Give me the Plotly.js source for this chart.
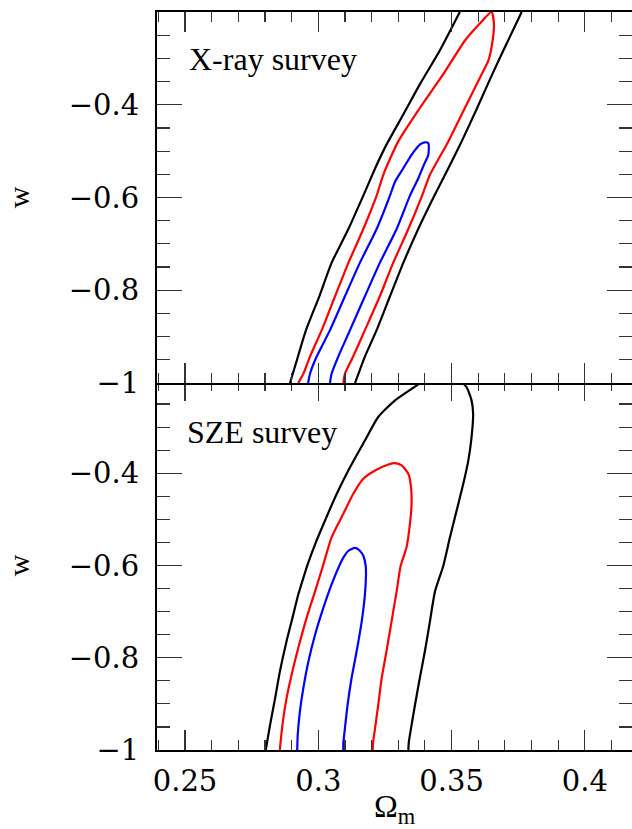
<!DOCTYPE html>
<html>
<head>
<meta charset="utf-8">
<script src="https://cdn.plot.ly/plotly-3.0.1.min.js"></script>
<style>html,body{margin:0;padding:0;background:#fff;}#chart{width:632px;height:829px;}</style>
</head>
<body>
<div id="chart"></div>
<script>
// ---- Data (Omega_m, w) ----
// X-ray survey contours
const xray68_om = [0.2962, 0.2969, 0.2994, 0.3044, 0.3100, 0.3156, 0.3219, 0.3269, 0.3288, 0.3319, 0.3350, 0.3381, 0.3400, 0.3413, 0.3413, 0.3396, 0.3375, 0.3344, 0.3294, 0.3231, 0.3175, 0.3119, 0.3075, 0.3050, 0.3044];
const xray68_w  = [-1, -0.980, -0.943, -0.886, -0.813, -0.741, -0.668, -0.596, -0.566, -0.537, -0.508, -0.486, -0.481, -0.483, -0.508, -0.530, -0.559, -0.596, -0.668, -0.741, -0.813, -0.886, -0.943, -0.980, -1];

const xray95_om = [0.2925, 0.2944, 0.2969, 0.3013, 0.3063, 0.3113, 0.3169, 0.3219, 0.3244, 0.3300, 0.3381, 0.3469, 0.3550, 0.3606, 0.3650, 0.3659, 0.3654, 0.3638, 0.3613, 0.3550, 0.3488, 0.3419, 0.3388, 0.3338, 0.3281, 0.3231, 0.3175, 0.3131, 0.3100, 0.3094];
const xray95_w  = [-1, -0.980, -0.943, -0.886, -0.813, -0.741, -0.668, -0.596, -0.551, -0.479, -0.407, -0.334, -0.262, -0.225, -0.200, -0.225, -0.262, -0.305, -0.334, -0.407, -0.479, -0.551, -0.598, -0.668, -0.741, -0.813, -0.886, -0.943, -0.980, -1];

const xray99_om = [0.2894, 0.2916, 0.2954, 0.3004, 0.3050, 0.3113, 0.3169, 0.3219, 0.3256, 0.3319, 0.3381, 0.3456, 0.3531, null, 0.3763, 0.3706, 0.3653, 0.3596, 0.3538, 0.3488, 0.3434, 0.3375, 0.3319, 0.3269, 0.3219, 0.3175, 0.3138];
const xray99_w  = [-1, -0.958, -0.886, -0.813, -0.741, -0.668, -0.596, -0.530, -0.486, -0.421, -0.356, -0.283, -0.2, null, -0.2, -0.269, -0.334, -0.407, -0.479, -0.537, -0.598, -0.668, -0.741, -0.813, -0.886, -0.943, -1];

// SZE survey contours
const sze68_om = [0.2921, 0.2923, 0.2931, 0.2944, 0.2963, 0.2988, 0.3019, 0.3050, 0.3081, 0.3094, 0.3113, 0.3138, 0.3156, 0.3169, 0.3178, 0.3179, 0.3175, 0.3163, 0.3144, 0.3125, 0.3110, 0.3100, 0.3094, 0.3094];
const sze68_w  = [-1, -0.967, -0.917, -0.866, -0.808, -0.750, -0.692, -0.641, -0.598, -0.583, -0.568, -0.562, -0.568, -0.579, -0.601, -0.620, -0.663, -0.721, -0.786, -0.844, -0.902, -0.953, -0.986, -1];

const sze95_om = [0.2856, 0.2860, 0.2869, 0.2881, 0.2900, 0.2925, 0.2956, 0.2988, 0.3019, 0.3050, 0.3094, 0.3131, 0.3169, 0.3213, 0.3263, 0.3288, 0.3313, 0.3338, 0.3348, 0.3350, 0.3344, 0.3331, 0.3309, 0.3294, 0.3275, 0.3256, 0.3238, 0.3225, 0.3213, 0.3206, 0.3204];
const sze95_w  = [-1, -0.975, -0.931, -0.888, -0.837, -0.779, -0.714, -0.656, -0.598, -0.539, -0.488, -0.445, -0.412, -0.394, -0.381, -0.378, -0.383, -0.401, -0.430, -0.467, -0.510, -0.561, -0.601, -0.656, -0.721, -0.786, -0.844, -0.902, -0.953, -0.982, -1];

const sze99_om = [0.2803, 0.2819, 0.2838, 0.2856, 0.2881, 0.2900, 0.2925, 0.2944, 0.2960, 0.2988, 0.3025, 0.3069, 0.3119, 0.3175, 0.3225, 0.3288, 0.3350, 0.3394, null, 0.3531, 0.3556, 0.3575, 0.3581, 0.3575, 0.3563, 0.3544, 0.3519, 0.3494, 0.3469, 0.3438, 0.3419, 0.3400, 0.3381, 0.3363, 0.3350, 0.3340, 0.3338];
const sze99_w  = [-1, -0.946, -0.888, -0.830, -0.764, -0.721, -0.663, -0.627, -0.598, -0.554, -0.503, -0.445, -0.387, -0.329, -0.278, -0.242, -0.217, -0.2, null, -0.2, -0.213, -0.242, -0.271, -0.322, -0.372, -0.423, -0.481, -0.539, -0.601, -0.656, -0.721, -0.786, -0.844, -0.902, -0.946, -0.982, -1];

// Tick labels and panel labels
const xTickVals = [0.25, 0.3, 0.35, 0.4];
const xTickText = ['0.25', '0.3', '0.35', '0.4'];
const yTickVals = [-1, -0.8, -0.6, -0.4];
const yTickText = ['\u22121', '\u22120.8', '\u22120.6', '\u22120.4'];
const panelLabels = ['X-ray survey', 'SZE survey'];

// ---- Styling ----
const colors = {c68: '#0000ff', c95: '#ff0000', c99: '#000000'};
const lw = 2.2;
function line(x, y, c, xa, ya, name) {
  return {x: x, y: y, type: 'scatter', mode: 'lines', xaxis: xa, yaxis: ya, name: name,
          line: {color: c, width: lw, shape: 'spline', smoothing: 0.6}, connectgaps: false,
          showlegend: false, hoverinfo: 'skip'};
}
const traces = [
  line(xray99_om, xray99_w, colors.c99, 'x2', 'y2', 'X-ray 99%'),
  line(xray95_om, xray95_w, colors.c95, 'x2', 'y2', 'X-ray 95%'),
  line(xray68_om, xray68_w, colors.c68, 'x2', 'y2', 'X-ray 68%'),
  line(sze99_om, sze99_w, colors.c99, 'x', 'y', 'SZE 99%'),
  line(sze95_om, sze95_w, colors.c95, 'x', 'y', 'SZE 95%'),
  line(sze68_om, sze68_w, colors.c68, 'x', 'y', 'SZE 68%')
];

const tickFont = {family: 'DejaVu Serif', size: 29, color: '#000'};
const tickCol = '#333';
const xRange = [0.2395, 0.4177];
const yRange = [-1, -0.2];

function xAxis(anchor, showLabels, withTitle) {
  const a = {
    anchor: anchor, range: xRange, showgrid: false, zeroline: false,
    showline: true, linecolor: '#000', linewidth: 2, mirror: 'allticks',
    tickmode: 'array', tickvals: xTickVals, ticktext: xTickText,
    ticks: 'inside', ticklen: 20, tickwidth: 1.2, tickcolor: tickCol,
    minor: {tickmode: 'linear', tick0: 0, dtick: 0.01, ticks: 'inside', ticklen: 10, tickwidth: 1.2, tickcolor: tickCol, showgrid: false},
    showticklabels: showLabels, tickfont: tickFont, ticklabelstandoff: 4
  };
  if (withTitle) a.title = {text: '\u03a9<sub>m</sub>', font: {family: 'Liberation Serif', size: 32, color: '#000'}, standoff: 6};
  return a;
}
function yAxis(anchor, domain) {
  return {
    anchor: anchor, domain: domain, range: yRange, showgrid: false, zeroline: false,
    showline: true, linecolor: '#000', linewidth: 2, mirror: 'allticks',
    tickmode: 'array', tickvals: yTickVals, ticktext: yTickText,
    ticks: 'inside', ticklen: 25, tickwidth: 1.2, tickcolor: tickCol,
    minor: {tickmode: 'linear', tick0: 0, dtick: 0.05, ticks: 'inside', ticklen: 13, tickwidth: 1.2, tickcolor: tickCol, showgrid: false},
    tickfont: tickFont, ticklabelstandoff: 10,
    title: {text: 'w', font: {family: 'Liberation Serif', size: 30, color: '#000'}, standoff: 30}
  };
}

const layout = {
  width: 632, height: 829,
  margin: {l: 157, r: 0, t: 12, b: 79},
  paper_bgcolor: '#fff', plot_bgcolor: '#fff',
  showlegend: false,
  xaxis: xAxis('y', true, true),
  xaxis2: xAxis('y2', false, false),
  yaxis: yAxis('x', [0, 0.5]),
  yaxis2: yAxis('x2', [0.5 - 2/738, 1]),
  annotations: [
    {text: panelLabels[0], xref: 'x2 domain', yref: 'y2 domain', x: 0.063, y: 0.873, xanchor: 'left', yanchor: 'middle',
     showarrow: false, font: {family: 'Liberation Serif', size: 32, color: '#000'}},
    {text: panelLabels[1], xref: 'x domain', yref: 'y domain', x: 0.059, y: 0.862, xanchor: 'left', yanchor: 'middle',
     showarrow: false, font: {family: 'Liberation Serif', size: 32, color: '#000'}}
  ]
};

Plotly.newPlot('chart', traces, layout, {staticPlot: true, displayModeBar: false});
</script>
</body>
</html>
